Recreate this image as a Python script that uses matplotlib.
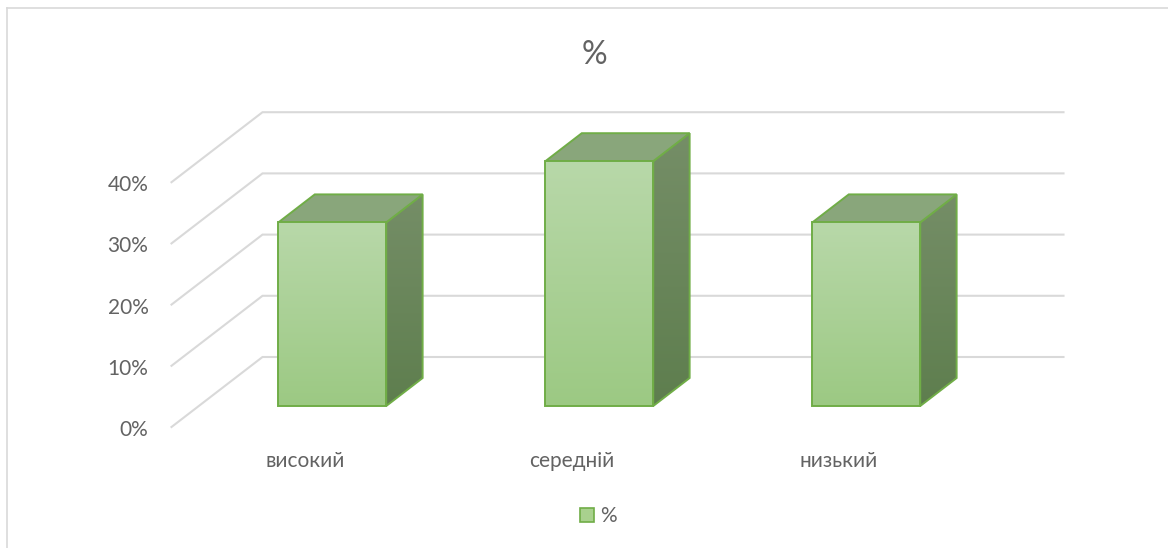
import numpy as np
import matplotlib
matplotlib.use("Agg")
import matplotlib.pyplot as plt
from matplotlib.patches import Polygon, Rectangle, Patch
from matplotlib.colors import LinearSegmentedColormap
import matplotlib.transforms as mtransforms

# ---- data ----
categories = ['високий', 'середній', 'низький']
values = [30, 40, 30]            # percent
yticks = [0, 10, 20, 30, 40]
ytick_labels = ['0%', '10%', '20%', '30%', '40%']
title = '%'
series_name = '%'

plt.rcParams['font.family'] = ['Lato', 'Open Sans', 'DejaVu Sans']
TXT = '#636363'
GRID = '#d9d9d9'
EDGE = '#70ad47'

fig = plt.figure(figsize=(11.68, 5.48), dpi=100)
ax = fig.add_axes([0, 0, 1, 1])
ax.set_axis_off()

# layout: category units horizontally, percent vertically (front floor plane)
px_per_cat = 267.0
px_per_pct = 6.12
x0_px = 305.0      # pixel x of first category at front plane
y0_px = 427.0      # pixel y of 0% at front plane
W, H = 1168.0, 548.0

# depth vector (full depth) in data units
ddx = 91.0 / px_per_cat
ddy = 70.0 / px_per_pct
n = len(categories)
xl, xr = -0.5, n - 0.5

def P(x, v, d):
    return (x + d * ddx, v + d * ddy)

# gridlines: left wall diagonals + back wall horizontals
for t in yticks:
    a = P(xl, t, 0); b = P(xl, t, 1); c = P(xr, t, 1)
    ax.plot([a[0], b[0], c[0]], [a[1], b[1], c[1]], color=GRID, lw=1.5,
            solid_joinstyle='miter', zorder=1)

# tick labels
off_l = mtransforms.offset_copy(ax.transData, fig=fig, x=-23, y=-3, units='dots')
for t, lab in zip(yticks, ytick_labels):
    ax.text(xl, t, lab, transform=off_l, ha='right', va='center',
            fontsize=15, color=TXT)

# category labels
off_b = mtransforms.offset_copy(ax.transData, fig=fig, x=0, y=-34, units='dots')
for i, lab in enumerate(categories):
    ax.text(i, 0, lab, transform=off_b, ha='center', va='center',
            fontsize=15, color=TXT)

# bars
bw = 0.404
d0, d1 = 0.3, 0.7
front_cmap = LinearSegmentedColormap.from_list('f', ['#9cc983', '#b8d8a9'])
side_cmap = LinearSegmentedColormap.from_list('s', ['#5e7e4e', '#758e67'])
grad = np.linspace(0, 1, 256).reshape(-1, 1)

for i, v in enumerate(values):
    L, R = i - bw / 2, i + bw / 2
    # side face
    side = [P(R, 0, d0), P(R, 0, d1), P(R, v, d1), P(R, v, d0)]
    sp = Polygon(side, closed=True, facecolor='none', edgecolor=EDGE,
                 lw=1.4, zorder=4, joinstyle='miter')
    ax.add_patch(sp)
    xs = [p[0] for p in side]; ys = [p[1] for p in side]
    im = ax.imshow(grad, cmap=side_cmap, origin='lower', aspect='auto',
                   extent=[min(xs), max(xs), min(ys), max(ys)], zorder=3,
                   interpolation='bilinear')
    im.set_clip_path(sp)
    # top face
    top = [P(L, v, d0), P(R, v, d0), P(R, v, d1), P(L, v, d1)]
    ax.add_patch(Polygon(top, closed=True, facecolor='#89a67b', edgecolor=EDGE,
                         lw=1.4, zorder=4, joinstyle='miter'))
    # front face
    fl = P(L, 0, d0)
    fp = Rectangle(fl, bw, v, facecolor='none', edgecolor=EDGE, lw=1.4,
                   zorder=6, joinstyle='miter')
    ax.add_patch(fp)
    im2 = ax.imshow(grad, cmap=front_cmap, origin='lower', aspect='auto',
                    extent=[fl[0], fl[0] + bw, fl[1], fl[1] + v], zorder=5,
                    interpolation='bilinear')
    im2.set_clip_path(fp)

ax.set_xlim(-x0_px / px_per_cat, (W - x0_px) / px_per_cat)
ax.set_ylim((y0_px - H) / px_per_pct, y0_px / px_per_pct)

# title
fig.text(594 / W, 1 - 55 / H, title, ha='center', va='center',
         fontsize=23, color=TXT)

# legend
h = Patch(facecolor='#a9d18e', edgecolor=EDGE, lw=1.2)
fig.legend(handles=[h], labels=[series_name], loc='center',
           bbox_to_anchor=(598 / W, 1 - 516 / H), frameon=False,
           fontsize=15, handlelength=0.67, handleheight=0.67,
           handletextpad=0.3, labelcolor=TXT)

# chart border (left and top visible)
fig.add_artist(plt.Line2D([7 / W, 7 / W], [0, 1 - 8 / H], color=GRID, lw=1.2,
                          transform=fig.transFigure))
fig.add_artist(plt.Line2D([7 / W, 1], [1 - 8 / H, 1 - 8 / H], color=GRID, lw=1.2,
                          transform=fig.transFigure))

fig.savefig('out.png', dpi=100)
